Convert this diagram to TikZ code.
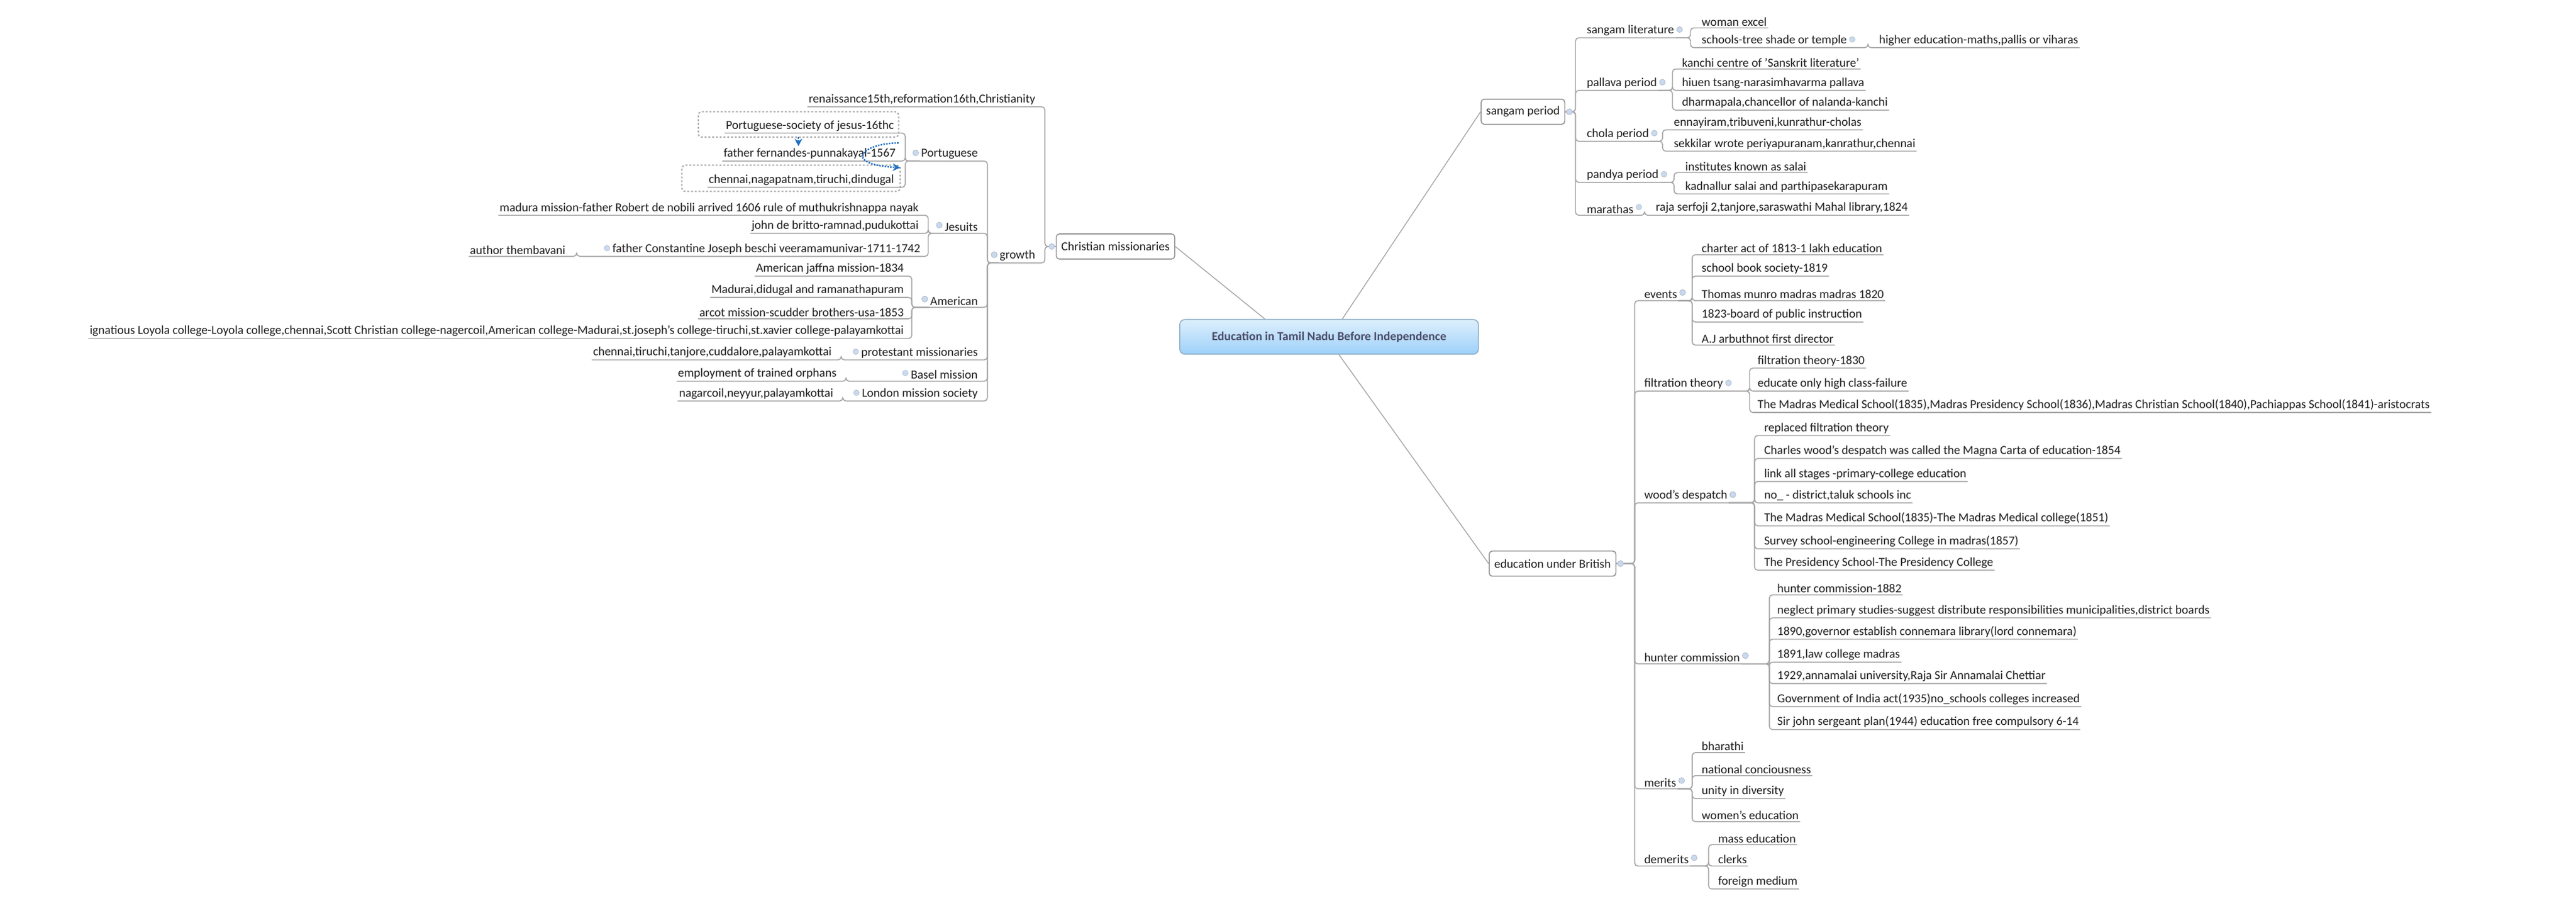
\documentclass[tikz,border=0pt]{standalone}
\usepackage{fontspec}
\setmainfont{Carlito}
\usetikzlibrary{calc,arrows.meta}
\newcommand\fs{\fontsize{19.5}{23}\selectfont}
\definecolor{txt}{HTML}{1E1E1E}
\definecolor{ln}{HTML}{A6A6A6}
\definecolor{mk}{HTML}{C9D9EE}
\definecolor{ctop}{HTML}{DDEFFC}
\definecolor{cbot}{HTML}{9DD0FA}
\definecolor{rel}{HTML}{1F6FC5}
\tikzset{
 leaf/.style={font=\fs, text=txt, inner xsep=2pt, inner ysep=3pt},
 lr/.style={leaf, anchor=south west},
 ll/.style={leaf, anchor=south east},
 conn/.style={draw=ln, line width=1.6pt, rounded corners=5pt},
 cdot/.style={circle, fill=mk, draw=mk!70!gray, line width=0.6pt, minimum size=9pt, inner sep=0pt},
 topbox/.style={font=\fs, text=txt, draw=ln!90!black, line width=1.6pt, fill=white, rounded corners=5pt, minimum height=40pt, inner xsep=8pt},
 central/.style={font=\fs\bfseries, text=black!75!blue!40!gray, draw=cbot!60!gray, line width=1.6pt, rounded corners=8pt, top color=ctop, bottom color=cbot, minimum width=475pt, minimum height=55pt},
 dashbox/.style={draw=ln, line width=2pt, dashed, rounded corners=6pt},
 relarrow/.style={draw=rel, line width=2.4pt, dotted, -{Stealth[length=12pt,width=12pt]}},
}
% right-side branch: parent, child, x of vertical
\newcommand\RB[3]{\draw[conn] (#1.south east) -- (#1.south east -| #3) |- (#2.south east); \node[cdot] at ($(#1.south east)+(2.5,-5)$) {};}
\newcommand\RBb[3]{\draw[conn] (#1.east) -- (#1.east -| #3) |- (#2.south east); \node[cdot] at ($(#1.east)+(2.5,0)$) {};}
\newcommand\LB[3]{\draw[conn] (#1.south west) -- (#1.south west -| #3) |- (#2.south west); \node[cdot] at ($(#1.south west)+(-2.5,-5)$) {};}
\newcommand\LBb[3]{\draw[conn] (#1.west) -- (#1.west -| #3) |- (#2.south west); \node[cdot] at ($(#1.west)+(-2.5,0)$) {};}
\begin{document}
\begin{tikzpicture}[x=2.6135pt,y=-2.6135pt]
\useasboundingbox[fill=white] (0,0) rectangle (1568,548);
% verticals
\foreach \n/\x in {vS/959,vSL/1029,vSc/1137,vPa/1018,vCh/1012,vPd/1019,vMa/1001,vB/995,vEv/1030,vFi/1065,vWo/1068,vHu/1077,vMe/1030,vDe/1040,vCM/636,vG/601,vPo/551,vJe/565,vAm/555,vAu/351,vPr/512,vBa/515,vLo/513}
  \coordinate (\n) at (\x,0);

% central and main topics
\node[central] (c) at (809,205) {Education in Tamil Nadu Before Independence};
\node[topbox] (sp) at (927,68) {sangam period};
\node[topbox] (eb) at (945,343) {education under British};
\node[topbox] (cm) at (679,150) {Christian missionaries};
\draw[ln, line width=1.4pt] ($(c.north)+(-39,0)$) -- (cm.east);
\draw[ln, line width=1.4pt] ($(c.north)+(8,0)$) -- (sp.west);
\draw[ln, line width=1.4pt] ($(c.south)+(6,0)$) -- (eb.west);

% ---------- sangam period ----------
\node[lr] (sl) at (965,23) {sangam literature};
\node[lr] (we) at (1035,17) {woman excel};
\node[lr] (sc) at (1035,29) {schools-tree shade or temple};
\node[lr] (he) at (1143,29) {higher education-maths,pallis or viharas};
\node[lr] (pp) at (965,55) {pallava period};
\node[lr] (ka) at (1023,42) {kanchi centre of 'Sanskrit literature'};
\node[lr] (hi) at (1023,55) {hiuen tsang-narasimhavarma pallava};
\node[lr] (dh) at (1023,67) {dharmapala,chancellor of nalanda-kanchi};
\node[lr] (cp) at (965,86) {chola period};
\node[lr] (en) at (1018,79) {ennayiram,tribuveni,kunrathur-cholas};
\node[lr] (se) at (1018,92) {sekkilar wrote periyapuranam,kanrathur,chennai};
\node[lr] (pd) at (965,111) {pandya period};
\node[lr] (in) at (1025,105) {institutes known as salai};
\node[lr] (kd) at (1025,118) {kadnallur salai and parthipasekarapuram};
\node[lr] (ma) at (965,131) {marathas};
\node[lr] (rs) at (1007,131) {raja serfoji 2,tanjore,saraswathi Mahal library,1824};
\foreach \ch in {sl,pp,cp,pd,ma} {\RBb{sp}{\ch}{vS}}
\RB{sl}{we}{vSL} \RB{sl}{sc}{vSL} \RB{sc}{he}{vSc}
\foreach \ch in {ka,hi,dh} {\RB{pp}{\ch}{vPa}}
\foreach \ch in {en,se} {\RB{cp}{\ch}{vCh}}
\foreach \ch in {in,kd} {\RB{pd}{\ch}{vPd}}
\RB{ma}{rs}{vMa}

% ---------- education under British ----------
\node[lr] (ev) at (1000,183) {events};
\node[lr] (e1) at (1035,155) {charter act of 1813-1 lakh education};
\node[lr] (e2) at (1035,168) {school book society-1819};
\node[lr] (e3) at (1035,183) {Thomas munro madras madras 1820};
\node[lr] (e4) at (1035,196) {1823-board of public instruction};
\node[lr] (e5) at (1035,210) {A.J arbuthnot first director};
\node[lr] (ft) at (1000,238) {filtration theory};
\node[lr] (f1) at (1069,224) {filtration theory-1830};
\node[lr] (f2) at (1069,238) {educate only high class-failure};
\node[lr] (f3) at (1069,251) {The Madras Medical School(1835),Madras Presidency School(1836),Madras Christian School(1840),Pachiappas School(1841)-aristocrats};
\node[lr] (wd) at (1000,306) {wood's despatch};
\node[lr] (w1) at (1073,265) {replaced filtration theory};
\node[lr] (w2) at (1073,279) {Charles wood's despatch was called the Magna Carta of education-1854};
\node[lr] (w3) at (1073,293) {link all stages -primary-college education};
\node[lr] (w4) at (1073,306) {no\_ - district,taluk schools inc};
\node[lr] (w5) at (1073,320) {The Madras Medical School(1835)-The Madras Medical college(1851)};
\node[lr] (w6) at (1073,334) {Survey school-engineering College in madras(1857)};
\node[lr] (w7) at (1073,347) {The Presidency School-The Presidency College};
\node[lr] (hc) at (1000,404) {hunter commission};
\node[lr] (h1) at (1081,362) {hunter commission-1882};
\node[lr] (h2) at (1081,376) {neglect primary studies-suggest distribute responsibilities municipalities,district boards};
\node[lr] (h3) at (1081,389) {1890,governor establish connemara library(lord connemara)};
\node[lr] (h4) at (1081,403) {1891,law college madras};
\node[lr] (h5) at (1081,416) {1929,annamalai university,Raja Sir Annamalai Chettiar};
\node[lr] (h6) at (1081,430) {Government of India act(1935)no\_schools colleges increased};
\node[lr] (h7) at (1081,444) {Sir john sergeant plan(1944) education free compulsory 6-14};
\node[lr] (me) at (1000,480) {merits};
\node[lr] (m1) at (1035,458) {bharathi};
\node[lr] (m2) at (1035,472) {national conciousness};
\node[lr] (m3) at (1035,486) {unity in diversity};
\node[lr] (m4) at (1035,500) {women's education};
\node[lr] (de) at (1000,527) {demerits};
\node[lr] (d1) at (1045,514) {mass education};
\node[lr] (d2) at (1045,527) {clerks};
\node[lr] (d3) at (1045,541) {foreign medium};
\foreach \ch in {ev,ft,wd,hc,me,de} {\RBb{eb}{\ch}{vB}}
\foreach \ch in {e1,e2,e3,e4,e5} {\RB{ev}{\ch}{vEv}}
\foreach \ch in {f1,f2,f3} {\RB{ft}{\ch}{vFi}}
\foreach \ch in {w1,w2,w3,w4,w5,w6,w7} {\RB{wd}{\ch}{vWo}}
\foreach \ch in {h1,h2,h3,h4,h5,h6,h7} {\RB{hc}{\ch}{vHu}}
\foreach \ch in {m1,m2,m3,m4} {\RB{me}{\ch}{vMe}}
\foreach \ch in {d1,d2,d3} {\RB{de}{\ch}{vDe}}

% ---------- Christian missionaries ----------
\node[ll] (re) at (631,65) {renaissance15th,reformation16th,Christianity};
\node[ll] (gr) at (631,160) {growth};
\LBb{cm}{re}{vCM} \LBb{cm}{gr}{vCM}
\node[ll] (po) at (596,98) {Portuguese};
\node[ll] (so) at (545,81) {Portuguese-society of jesus-16thc};
\node[ll] (ff) at (546,98) {father fernandes-punnakayal-1567};
\node[ll] (cn) at (545,114) {chennai,nagapatnam,tiruchi,dindugal};
\node[ll] (je) at (596,142) {Jesuits};
\node[ll] (j1) at (560,131) {madura mission-father Robert de nobili arrived 1606 rule of muthukrishnappa nayak};
\node[ll] (j2) at (560,142) {john de britto-ramnad,pudukottai};
\node[ll] (j3) at (561,156) {father Constantine Joseph beschi veeramamunivar-1711-1742};
\node[ll] (j4) at (345,156) {author thembavani};
\node[ll] (am) at (596,187) {American};
\node[ll] (a1) at (551,168) {American jaffna mission-1834};
\node[ll] (a2) at (551,181) {Madurai,didugal and ramanathapuram};
\node[ll] (a3) at (551,194) {arcot mission-scudder brothers-usa-1853};
\node[ll] (a4) at (551,206) {ignatious Loyola college-Loyola college,chennai,Scott Christian college-nagercoil,American college-Madurai,st.joseph's college-tiruchi,st.xavier college-palayamkottai};
\node[ll] (pr) at (596,219) {protestant missionaries};
\node[ll] (p1) at (507,219) {chennai,tiruchi,tanjore,cuddalore,palayamkottai};
\node[ll] (ba) at (596,232) {Basel mission};
\node[ll] (b1) at (510,232) {employment of trained orphans};
\node[ll] (lo) at (596,244) {London mission society};
\node[ll] (l1) at (508,244) {nagarcoil,neyyur,palayamkottai};
\foreach \ch in {po,je,am,pr,ba,lo} {\LB{gr}{\ch}{vG}}
\foreach \ch in {so,ff,cn} {\LB{po}{\ch}{vPo}}
\foreach \ch in {j1,j2,j3} {\LB{je}{\ch}{vJe}}
\LB{j3}{j4}{vAu}
\foreach \ch in {a1,a2,a3,a4} {\LB{am}{\ch}{vAm}}
\LB{pr}{p1}{vPr} \LB{ba}{b1}{vBa} \LB{lo}{l1}{vLo}
% dashed boundary boxes
\draw[dashbox] (425,68) rectangle (547,83.5);
\draw[dashbox] (415,100.5) rectangle (548,116.5);
% relationship arrows
\draw[relarrow] (486,83.5) -- (486,89);
\draw[relarrow] (547,87) .. controls (525,87) and (512,100) .. (548,102);
\end{tikzpicture}
\end{document}
